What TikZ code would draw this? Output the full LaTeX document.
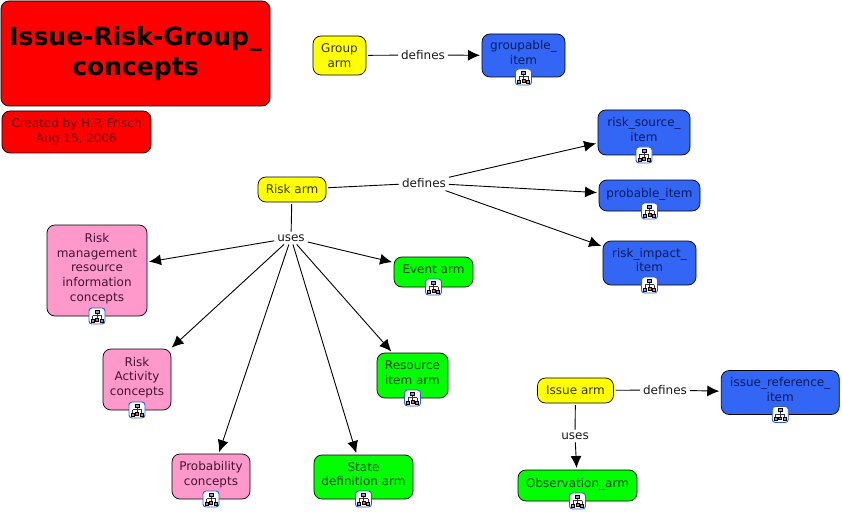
\documentclass[tikz,border=0pt]{standalone}
\usepackage{fontspec}
\setmainfont{DejaVu Sans}
\usetikzlibrary{arrows.meta}
\definecolor{armblue}{HTML}{3366F5}
\definecolor{armyellow}{HTML}{FFFF00}
\definecolor{conceptpink}{HTML}{FF99CC}
\definecolor{navytext}{HTML}{0A1A60}
\definecolor{greentext}{HTML}{0A4A0A}
\definecolor{pinktext}{HTML}{401530}
\definecolor{yellowtext}{HTML}{333300}
\definecolor{iconblue}{HTML}{2F5FC0}
\tikzset{
  box/.style={draw=black,line width=0.7pt,rounded corners=8pt,align=center,inner sep=0pt,outer sep=0pt,
    font=\fontsize{12}{14.7}\selectfont},
  yellowbox/.style={box,fill=armyellow,text=yellowtext},
  greenbox/.style={box,fill=green,text=greentext,text depth=6pt},
  pinkbox/.style={box,fill=conceptpink,text=pinktext,text depth=6.5pt},
  bluebox/.style={box,fill=armblue,text=navytext,text depth=6pt},
  linkword/.style={inner xsep=3pt,inner ysep=3pt,outer sep=0pt,text=black!90,font=\fontsize{12}{14.7}\selectfont},
  plainlink/.style={line width=0.9pt,black,shorten <=2pt},
  arrowlink/.style={line width=0.9pt,black,-{Latex[length=12pt,width=11pt]},shorten >=2pt},
  treeicon/.pic={
    \draw[draw=iconblue,fill=white,line width=0.9pt,rounded corners=3pt] (-8,-8) rectangle (8,8);
    \draw[line width=0.7pt,draw=black!80] (0,-3) -- (0,3) (-4.5,-0.5) -- (4.5,-0.5) (-4.5,-0.5) -- (-4.5,3) (4.5,-0.5) -- (4.5,3);
    \draw[line width=0.6pt,fill=iconblue!60] (-2,-6) rectangle (2,-3);
    \foreach \x in {-4.5,4.5} \draw[line width=0.6pt,fill=iconblue!60] ({\x-1.5},3) rectangle ({\x+1.5},6);
    \draw[line width=0.6pt,fill=orange!80!red] (-1.5,2.5) rectangle (1.5,5);
  }
}
\begin{document}
\begin{tikzpicture}[x=1pt,y=-1pt]
  \useasboundingbox (0,0) rectangle (842,513);
  % title boxes
  \node[box,fill=red,minimum width=269pt,minimum height=105pt,font=\fontsize{25}{29.5}\selectfont\bfseries] (title) at (135.5,53.5) {Issue-Risk-Group\_\\concepts};
  \node[box,fill=red,text=red!45!black,minimum width=149pt,minimum height=42pt] (created) at (76.5,132) {Created by H.P. Frisch\\Aug 15, 2006};
  % group arm
  \node[yellowbox,minimum width=53pt,minimum height=39pt] (grouparm) at (339.5,55.5) {Group\\arm};
  \node[linkword] (groupdefines) at (423,55) {defines};
  \node[bluebox,minimum width=83pt,minimum height=43pt] (groupable) at (523.5,55.5) {groupable\_\\item};
  % risk arm
  \node[yellowbox,minimum width=68pt,minimum height=25pt] (riskarm) at (292,189.5) {Risk arm};
  \node[linkword] (riskdefines) at (424,183) {defines};
  \node[linkword] (riskuses) at (291,238) {uses};
  \node[bluebox,minimum width=92pt,minimum height=45pt] (risksource) at (644,132.5) {risk\_source\_\\item};
  \node[bluebox,minimum width=101pt,minimum height=31pt] (probable) at (649.5,195.5) {probable\_item};
  \node[bluebox,minimum width=93pt,minimum height=44pt] (riskimpact) at (649.5,263) {risk\_impact\_\\item};
  \node[pinkbox,minimum width=100pt,minimum height=91pt] (riskmgmt) at (97,270.5) {Risk\\management\\resource\\information\\concepts};
  \node[pinkbox,minimum width=68pt,minimum height=61pt] (riskactivity) at (137,379.5) {Risk\\Activity\\concepts};
  \node[pinkbox,minimum width=78pt,minimum height=45pt] (probability) at (211,476.5) {Probability\\concepts};
  \node[greenbox,minimum width=99pt,minimum height=44pt] (statedef) at (363.5,477) {State\\definition arm};
  \node[greenbox,minimum width=71pt,minimum height=45pt] (resource) at (412.5,375.5) {Resource\\item arm};
  \node[greenbox,minimum width=79pt,minimum height=30pt] (eventarm) at (433.5,272) {Event arm};
  % issue arm
  \node[yellowbox,minimum width=76pt,minimum height=25pt] (issuearm) at (575.5,390.5) {Issue arm};
  \node[linkword] (issuedefines) at (665,390) {defines};
  \node[linkword] (issueuses) at (575,436) {uses};
  \node[bluebox,minimum width=118pt,minimum height=44pt] (issueref) at (780.25,392.5) {issue\_reference\_\\item};
  \node[greenbox,minimum width=119pt,minimum height=31pt] (observation) at (577.5,485.5) {Observation\_arm};
  % links
  \draw[plainlink] (grouparm) -- (groupdefines);
  \draw[arrowlink] (groupdefines) -- (groupable);
  \draw[plainlink] (riskarm) -- (riskdefines);
  \draw[plainlink] (riskarm) -- (riskuses);
  \foreach \n in {risksource,probable,riskimpact} \draw[arrowlink] (riskdefines) -- (\n);
  \foreach \n in {riskmgmt,riskactivity,probability,statedef,resource,eventarm} \draw[arrowlink] (riskuses) -- (\n);
  \draw[plainlink] (issuearm) -- (issuedefines);
  \draw[arrowlink] (issuedefines) -- (issueref);
  \draw[plainlink] (issuearm) -- (issueuses);
  \draw[arrowlink] (issueuses) -- (observation);
  % icons under the boxes
  \foreach \n in {groupable,risksource,probable,riskimpact,riskmgmt,riskactivity,probability,statedef,resource,eventarm,issueref,observation}
    \pic at (\n.south) {treeicon};
\end{tikzpicture}
\end{document}
